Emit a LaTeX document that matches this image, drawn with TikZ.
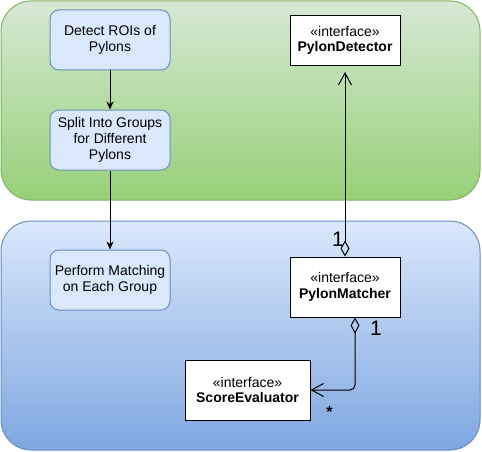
\documentclass[tikz,border=0pt]{standalone}
\usepackage{fontspec}
\setmainfont{Liberation Sans}
\usetikzlibrary{arrows.meta,calc}
\definecolor{gtop}{HTML}{D5E8D4}
\definecolor{gbot}{HTML}{97D077}
\definecolor{gstroke}{HTML}{82B366}
\definecolor{btop}{HTML}{DAE8FC}
\definecolor{bbot}{HTML}{7EA6E0}
\definecolor{bstroke}{HTML}{6C8EBF}
\tikzset{
  container/.style={rectangle, rounded corners=30pt, line width=1pt, inner sep=0pt, minimum width=479pt},
  stepbox/.style={rectangle, rounded corners=9pt, draw=bstroke, fill=btop, line width=1pt,
    minimum width=120pt, minimum height=60pt, inner sep=0pt, align=center,
    font=\fontsize{14}{15.7}\selectfont},
  iface/.style={rectangle, draw=black, fill=white, line width=1pt, inner sep=0pt, align=center,
    minimum height=60pt, font=\fontsize{14}{15.7}\selectfont},
  flow/.style={line width=1pt, -{Stealth[length=8pt,width=7pt,inset=2.5pt]}},
  agg/.style={line width=1pt, {Diamond[open,length=16pt,width=9pt,line width=1pt]}-{Straight Barb[length=12pt,width=13pt,line width=1pt]}},
  mult/.style={inner sep=0pt, font=\fontsize{21}{21}\selectfont},
}
\begin{document}
\begin{tikzpicture}[x=1pt,y=-1pt]
\useasboundingbox (0,0) rectangle (482,452);
% containers
\node[container, minimum height=199pt, draw=gstroke, top color=gtop, bottom color=gbot] (green) at (240.5,100.5) {};
\node[container, minimum height=229pt, draw=bstroke, top color=btop, bottom color=bbot] (blue) at (240.5,335.5) {};
% process steps
\node[stepbox] (detect) at (110,40) {Detect ROIs of\\Pylons};
\node[stepbox] (split) at (110,140) {Split Into Groups\\for Different\\Pylons};
\node[stepbox] (match) at (110,280) {Perform Matching\\on Each Group};
% interfaces
\node[iface, minimum width=110pt, minimum height=50pt] (det) at (345,40.5) {«interface»\\\textbf{PylonDetector}};
\node[iface, minimum width=110pt] (pm) at (345,287) {«interface»\\\textbf{PylonMatcher}};
\node[iface, minimum width=125pt] (se) at (247.5,390) {«interface»\\\textbf{ScoreEvaluator}};
% connectors
\draw[flow] (detect) -- (split);
\draw[flow] (split) -- (match);
\draw[agg, shorten >=6pt] (pm.north) -- (det.south);
\coordinate (pmout) at ([xshift=10pt]pm.south);
\draw[agg, rounded corners=5pt] (pmout) |- (se.east);
% multiplicities
\node[mult] (m1) at (338,239.5) {1};
\node[mult] (m2) at (376,328) {1};
\node[inner sep=0pt, font=\fontsize{16}{16}\selectfont\bfseries] (m3) at (329.5,412) {*};
\end{tikzpicture}
\end{document}
